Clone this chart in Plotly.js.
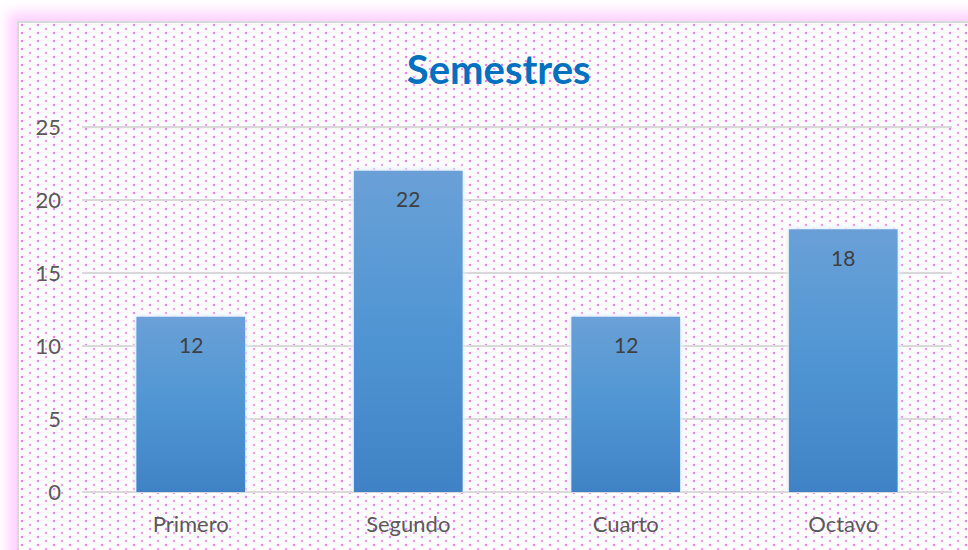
<!DOCTYPE html>
<html>
<head>
<meta charset="utf-8">
<script src="https://cdn.plot.ly/plotly-3.0.1.min.js"></script>
<style>
  html, body { margin:0; padding:0; width:968px; height:550px; overflow:hidden; background:#fff; }
  #frame {
    position:absolute; left:17px; top:21px; width:1000px; height:600px;
    border:2px solid #d9d9d9; box-sizing:border-box;
    box-shadow: 0 0 12px 9px #ffd2ff;
    background-color:#fff;
    background-image:url("data:image/svg+xml;utf8,<svg xmlns='http://www.w3.org/2000/svg' width='16' height='8'><rect x='1.5' y='0.5' width='3' height='3' fill='%23fde4fd'/><rect x='2' y='1' width='2' height='2' fill='%23f080f0'/><rect x='9.5' y='4.5' width='3' height='3' fill='%23fde8fd'/><rect x='10' y='5' width='2' height='2' fill='%23f49cf4'/></svg>");
    background-size:16px 8px;
  }
  #chart { position:absolute; left:0; top:0; width:968px; height:550px; }
  #chart .bars path { filter: drop-shadow(0 0 3px #dce9f6) drop-shadow(0 0 2px #eef5fc); }
</style>
</head>
<body>
<div id="frame"></div>
<div id="chart"></div>
<script>
const categories = ["Primero", "Segundo", "Cuarto", "Octavo"];
const values = [12, 22, 12, 18];
const yTicks = [0, 5, 10, 15, 20, 25];

const FONT = "Lato, 'DejaVu Sans', sans-serif";

const trace = {
  type: "bar",
  x: categories,
  y: values,
  marker: { color: "#5093d2", line: { width: 0 } },
  hoverinfo: "none"
};

const labels = categories.map(function (c, i) {
  return {
    x: c, y: values[i], xref: "x", yref: "y",
    text: String(values[i]), showarrow: false,
    yanchor: "middle", yshift: -28,
    font: { family: FONT, size: 21, color: "#404040" }
  };
});

const layout = {
  width: 968, height: 550,
  margin: { l: 82, r: 16, t: 124, b: 58 },
  paper_bgcolor: "rgba(0,0,0,0)",
  plot_bgcolor: "rgba(0,0,0,0)",
  bargap: 0.5,
  showlegend: false,
  annotations: labels,
  title: {
    text: "<b>Semestres</b>",
    font: { family: FONT, size: 40, color: "#0070c0" },
    x: 0.479, xref: "paper", xanchor: "center",
    y: 1 - 70 / 550, yref: "container", yanchor: "middle"
  },
  xaxis: {
    showgrid: false, showline: false, zeroline: false, ticks: "",
    tickfont: { family: FONT, size: 22, color: "#595959" },
    ticklabelstandoff: 17,
    fixedrange: true
  },
  yaxis: {
    range: [0, 25.2],
    tickvals: yTicks,
    ticktext: yTicks.map(String),
    showgrid: true, gridcolor: "#d9d9d9", gridwidth: 2,
    zeroline: true, zerolinecolor: "#d9d9d9", zerolinewidth: 2,
    showline: false, ticks: "",
    tickfont: { family: FONT, size: 22, color: "#595959" },
    ticklabelstandoff: 20,
    fixedrange: true
  }
};

Plotly.newPlot("chart", [trace], layout, { staticPlot: true, displayModeBar: false }).then(function (gd) {
  const svg = gd.querySelector("svg.main-svg");
  const ns = "http://www.w3.org/2000/svg";
  let defs = svg.querySelector("defs");
  if (!defs) { defs = document.createElementNS(ns, "defs"); svg.insertBefore(defs, svg.firstChild); }
  const grad = document.createElementNS(ns, "linearGradient");
  grad.setAttribute("id", "barGrad");
  grad.setAttribute("x1", "0"); grad.setAttribute("y1", "0");
  grad.setAttribute("x2", "0"); grad.setAttribute("y2", "1");
  [["0", "#6aa0d7"], ["0.45", "#5297d4"], ["1", "#3f83c6"]].forEach(function (s) {
    const st = document.createElementNS(ns, "stop");
    st.setAttribute("offset", s[0]); st.setAttribute("stop-color", s[1]);
    grad.appendChild(st);
  });
  defs.appendChild(grad);
  gd.querySelectorAll(".bars .point path").forEach(function (p) {
    p.style.fill = "url(#barGrad)";
  });
});
</script>
</body>
</html>
